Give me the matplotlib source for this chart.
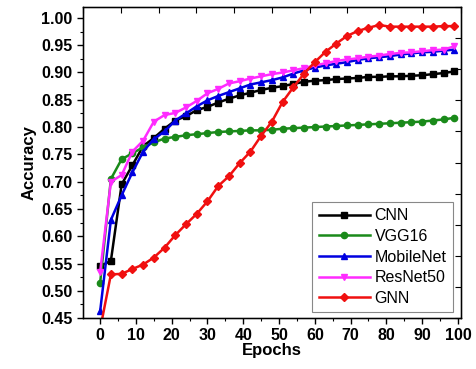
import matplotlib
matplotlib.use("Agg")
import matplotlib.pyplot as plt
import numpy as np
from matplotlib.ticker import MultipleLocator

plt.rcParams['font.family'] = ['Liberation Sans', 'DejaVu Sans']

epochs = list(range(0, 100, 3))

cnn = [0.545, 0.555, 0.695, 0.730, 0.765, 0.780, 0.797, 0.812, 0.820, 0.831, 0.837, 0.845,
       0.852, 0.858, 0.863, 0.868, 0.872, 0.875, 0.879, 0.883, 0.885, 0.886, 0.888, 0.889,
       0.890, 0.892, 0.892, 0.893, 0.893, 0.894, 0.895, 0.897, 0.899, 0.902]
vgg16 = [0.515, 0.705, 0.741, 0.752, 0.763, 0.772, 0.779, 0.782, 0.785, 0.787, 0.789, 0.791,
         0.792, 0.793, 0.794, 0.794, 0.795, 0.797, 0.798, 0.799, 0.800, 0.801, 0.802, 0.803,
         0.804, 0.805, 0.806, 0.807, 0.808, 0.809, 0.810, 0.812, 0.814, 0.817]
mobilenet = [0.463, 0.630, 0.675, 0.717, 0.755, 0.778, 0.792, 0.812, 0.825, 0.838, 0.849, 0.857,
             0.864, 0.871, 0.878, 0.882, 0.886, 0.891, 0.898, 0.904, 0.909, 0.913, 0.916, 0.919,
             0.923, 0.926, 0.928, 0.930, 0.933, 0.935, 0.937, 0.938, 0.940, 0.942]
resnet50 = [0.535, 0.700, 0.712, 0.755, 0.775, 0.810, 0.822, 0.826, 0.836, 0.848, 0.862, 0.870,
            0.880, 0.884, 0.889, 0.893, 0.897, 0.900, 0.904, 0.908, 0.913, 0.917, 0.921, 0.924,
            0.926, 0.929, 0.931, 0.934, 0.936, 0.937, 0.939, 0.941, 0.942, 0.948]
gnn = [0.430, 0.530, 0.531, 0.540, 0.548, 0.561, 0.579, 0.602, 0.622, 0.641, 0.664, 0.692,
       0.710, 0.734, 0.755, 0.784, 0.810, 0.846, 0.873, 0.898, 0.919, 0.938, 0.953, 0.967,
       0.976, 0.982, 0.987, 0.984, 0.984, 0.984, 0.984, 0.984, 0.985, 0.985]

series = [
    ("CNN", cnn, "black", "s"),
    ("VGG16", vgg16, "#1a8a1a", "o"),
    ("MobileNet", mobilenet, "#0000e0", "^"),
    ("ResNet50", resnet50, "#ff2bff", "v"),
    ("GNN", gnn, "#f01010", "D"),
]

fig = plt.figure(figsize=(4.77, 3.69), dpi=100)
ax = fig.add_axes([0.174, 0.138, 0.792, 0.843])

for name, vals, col, mk in series:
    ax.plot(epochs, vals, color=col, marker=mk, markersize=4.5, linewidth=1.8, label=name)

ax.set_xlim(-4.8, 100.8)
ax.set_ylim(0.45, 1.02)
ax.xaxis.set_major_locator(MultipleLocator(10))
ax.xaxis.set_minor_locator(MultipleLocator(5))
ax.yaxis.set_major_locator(MultipleLocator(0.05))
ax.yaxis.set_minor_locator(MultipleLocator(0.025))
ax.tick_params(which='major', direction='out', length=4, width=1.0, labelsize=11.5)
ax.tick_params(which='minor', direction='out', length=2, width=0.8)
for lab in ax.get_xticklabels() + ax.get_yticklabels():
    lab.set_fontweight('bold')
ax.yaxis.set_major_formatter(matplotlib.ticker.FormatStrFormatter('%.2f'))
ax.set_xlabel("Epochs", fontsize=12, fontweight='bold', labelpad=0)
ax.set_ylabel("Accuracy", fontsize=12, fontweight='bold', labelpad=3)
for s in ax.spines.values():
    s.set_linewidth(1.0)

# top and right decorative ticks
axt = ax.twiny()
axt.set_xlim(0, 10)
axt.set_xticks(range(11))
axt.tick_params(axis='x', direction='in', length=4, labeltop=False)
axr = ax.twinx()
axr.set_ylim(0, 10)
axr.set_yticks(range(11))
axr.tick_params(axis='y', direction='in', length=4, labelright=False)

leg = ax.legend(loc='lower right', bbox_to_anchor=(0.979, 0.019), borderaxespad=0,
                fontsize=11.5, handlelength=3.2, labelspacing=0.35, handletextpad=0.3,
                fancybox=False, edgecolor='#888888', framealpha=1, borderpad=0.4)
leg.get_frame().set_linewidth(0.8)
leg.set_zorder(10)

fig.savefig("out.png", dpi=100)
